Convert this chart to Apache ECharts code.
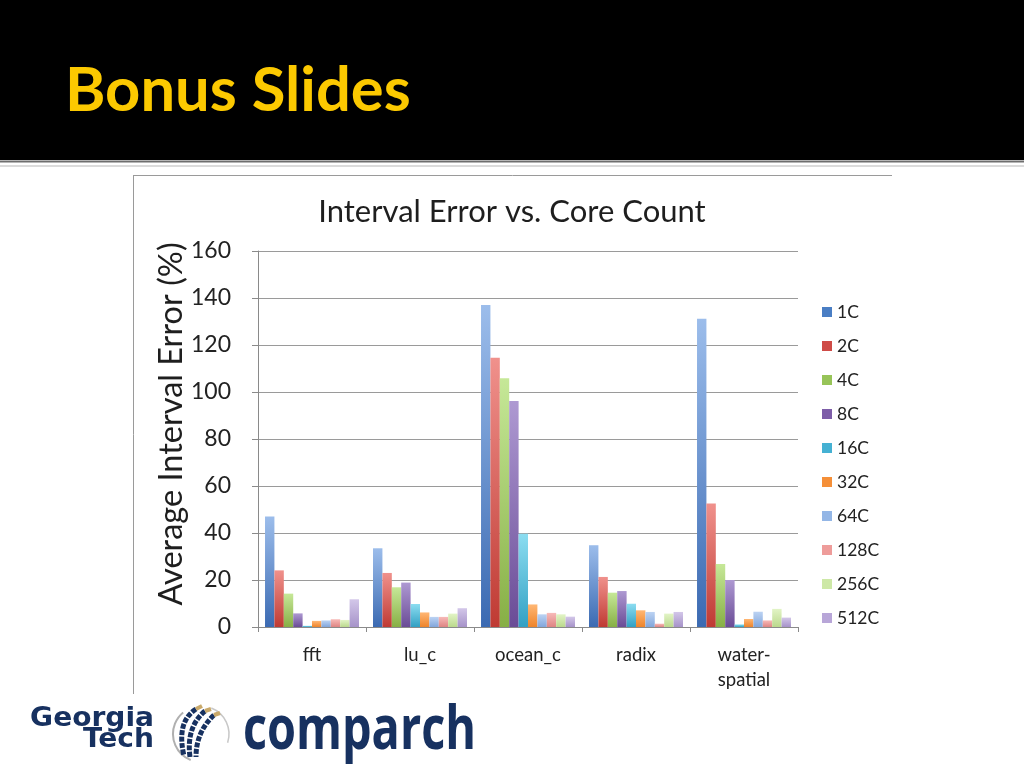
<!DOCTYPE html>
<html>
<head>
<meta charset="utf-8">
<script src="https://cdn.jsdelivr.net/npm/echarts@6/dist/echarts.min.js"></script>
<style>
html,body{margin:0;padding:0;background:#fff;}
#chart{width:1024px;height:768px;}
</style>
</head>
<body>
<div id="chart"></div>
<script>
// ---- data ----
var categories = ['fft', 'lu_c', 'ocean_c', 'radix', 'water-spatial'];
var seriesNames = ['1C', '2C', '4C', '8C', '16C', '32C', '64C', '128C', '256C', '512C'];
var v1C   = [47.0, 33.5, 137.0, 34.8, 131.2];
var v2C   = [24.1, 23.0, 114.6, 21.3, 52.6];
var v4C   = [14.2, 16.9, 105.8, 14.6, 26.8];
var v8C   = [5.8, 18.9, 96.2, 15.3, 20.0];
var v16C  = [0.5, 9.8, 39.7, 9.9, 1.1];
var v32C  = [2.6, 6.2, 9.6, 7.1, 3.4];
var v64C  = [2.8, 4.3, 5.4, 6.4, 6.5];
var v128C = [3.3, 4.3, 6.0, 1.4, 2.8];
var v256C = [3.0, 5.7, 5.4, 5.7, 7.7];
var v512C = [11.8, 8.0, 4.4, 6.4, 4.0];
var yTicks = [0, 20, 40, 60, 80, 100, 120, 140, 160];
var seriesValues = [v1C, v2C, v4C, v8C, v16C, v32C, v64C, v128C, v256C, v512C];

// ---- styles ----
var baseColors = ['#4A7EC4', '#CF4B47', '#97C458', '#7D5DA8', '#45B1D3', '#F58F38', '#93B6E6', '#EE9C9A', '#CDE8A6', '#B8A6D8'];
var topColors  = ['#9CBDEB', '#F0918C', '#C6E898', '#AE99D2', '#8CDDF1', '#FFB774', '#BCD3F3', '#F7BAB8', '#E2F4C6', '#D3C7E9'];
var botColors  = ['#3B6AB2', '#BF3A33', '#87AF45', '#6A4C96', '#32A0C3', '#EE842A', '#82A6DB', '#DE8583', '#BBD98D', '#A693C9'];
var FONT = 'Lato';
var NAVY = '#173160';

var chart = echarts.init(document.getElementById('chart'));

var series = seriesNames.map(function (name, i) {
  return {
    name: name,
    type: 'bar',
    data: seriesValues[i],
    barGap: '0%',
    barCategoryGap: '13%',
    itemStyle: {
      color: new echarts.graphic.LinearGradient(0, 0, 0, 1, [
        { offset: 0, color: topColors[i] },
        { offset: 1, color: botColors[i] }
      ])
    }
  };
});

var option = {
  animation: false,
  backgroundColor: '#ffffff',
  textStyle: { fontFamily: FONT },
  title: {
    text: 'Interval Error vs. Core Count',
    left: 'center',
    top: 191,
    textStyle: { fontFamily: FONT, fontSize: 31, fontWeight: 'normal', color: '#1e1e1e' }
  },
  legend: {
    orient: 'vertical',
    left: 822,
    top: 303,
    padding: 0,
    itemWidth: 10,
    itemHeight: 10,
    itemGap: 16,
    icon: 'rect',
    textStyle: { fontFamily: FONT, fontSize: 17.5, color: '#222' },
    data: seriesNames.map(function (n, i) { return { name: n, itemStyle: { color: baseColors[i] } }; })
  },
  grid: { left: 258, right: 226, top: 251, bottom: 141, containLabel: false },
  xAxis: {
    type: 'category',
    data: categories,
    axisLine: { show: true, lineStyle: { color: '#8a8a8a', width: 1 } },
    axisTick: { show: true, length: 5, alignWithLabel: false, lineStyle: { color: '#8a8a8a' } },
    axisLabel: {
      fontFamily: FONT, fontSize: 18.5, color: '#222', margin: 16, lineHeight: 25,
      formatter: function (v) { return v.replace('-', '-\n'); }
    }
  },
  yAxis: {
    type: 'value',
    min: 0,
    max: 160,
    interval: 20,
    name: 'Average Interval Error (%)',
    nameLocation: 'middle',
    nameGap: 70,
    nameMoveOverlap: false,
    nameTextStyle: { fontFamily: FONT, fontSize: 32.5, color: '#1e1e1e', padding: [0, 0, 0, 30] },
    axisLine: { show: true, lineStyle: { color: '#8a8a8a', width: 1 } },
    axisTick: { show: true, length: 6, lineStyle: { color: '#8a8a8a' } },
    splitLine: { show: true, lineStyle: { color: '#9a9a9a', width: 1 } },
    axisLabel: {
      fontFamily: FONT, fontSize: 23, color: '#222', margin: 27,
      formatter: function (v) { return yTicks.indexOf(v) >= 0 ? String(v) : ''; }
    }
  },
  series: series,
  graphic: [
    { type: 'rect', shape: { x: 0, y: 0, width: 1024, height: 160 }, style: { fill: '#000' }, z: -10 },
    { type: 'line', shape: { x1: 0, y1: 161.5, x2: 1024, y2: 161.5 }, style: { stroke: '#6e6e6e', lineWidth: 2 } },
    { type: 'line', shape: { x1: 0, y1: 166, x2: 1024, y2: 166 }, style: { stroke: '#cfcfcf', lineWidth: 1.5 } },
    {
      type: 'text', x: 65, y: 91, z: 10,
      style: {
        text: 'Bonus Slides', fontFamily: FONT, fontWeight: 'bold', fontSize: 61.5,
        fill: '#FCC900', verticalAlign: 'middle', align: 'left'
      }
    },
    // chart box frame
    { type: 'line', shape: { x1: 133, y1: 175.5, x2: 892, y2: 175.5 }, style: { stroke: '#9a9a9a', lineWidth: 1 } },
    { type: 'line', shape: { x1: 133.5, y1: 175, x2: 133.5, y2: 694 }, style: { stroke: '#9a9a9a', lineWidth: 1 } },
    // Georgia Tech logo
    { type: 'text', x: 154, y: 719, scaleX: 1.08, style: { text: 'Georgia', fontFamily: 'DejaVu Sans', fontWeight: 'bold', fontSize: 26, fill: NAVY, align: 'right', verticalAlign: 'middle' } },
    { type: 'text', x: 154, y: 740, scaleX: 1.08, style: { text: 'Tech', fontFamily: 'DejaVu Sans', fontWeight: 'bold', fontSize: 26, fill: NAVY, align: 'right', verticalAlign: 'middle' } },
    // swirl icon
    { type: 'arc', shape: { cx: 201, cy: 734, r: 28, startAngle: Math.PI * 0.62, endAngle: Math.PI * 1.28, clockwise: true }, style: { stroke: '#b0b0b0', lineWidth: 2, fill: null } },
    { type: 'arc', shape: { cx: 201, cy: 734, r: 28, startAngle: -Math.PI * 0.38, endAngle: Math.PI * 0.1, clockwise: true }, style: { stroke: '#c8c8c8', lineWidth: 1.5, fill: null } },
    { type: 'bezierCurve', shape: { x1: 196, y1: 709, x2: 184, y2: 756, cpx1: 176, cpy1: 722 }, style: { stroke: NAVY, lineWidth: 5, lineDash: [5, 1.5], fill: null } },
    { type: 'bezierCurve', shape: { x1: 205, y1: 711, x2: 190, y2: 757, cpx1: 186, cpy1: 727 }, style: { stroke: NAVY, lineWidth: 5, lineDash: [5, 1.5], fill: null } },
    { type: 'bezierCurve', shape: { x1: 214, y1: 715, x2: 196, y2: 757, cpx1: 196, cpy1: 732 }, style: { stroke: NAVY, lineWidth: 5, lineDash: [5, 1.5], fill: null } },
    { type: 'line', shape: { x1: 196, y1: 709, x2: 202, y2: 706 }, style: { stroke: '#C9A96A', lineWidth: 4 } },
    { type: 'line', shape: { x1: 205, y1: 711, x2: 211, y2: 709 }, style: { stroke: '#C9A96A', lineWidth: 4 } },
    { type: 'line', shape: { x1: 214, y1: 715, x2: 220, y2: 713 }, style: { stroke: '#C9A96A', lineWidth: 4 } },
    // comparch word mark
    { type: 'text', x: 243, y: 732, scaleX: 0.78, style: { text: 'comparch', fontFamily: 'Open Sans', fontWeight: 'bold', fontSize: 60, fill: NAVY, align: 'left', verticalAlign: 'middle' } }
  ]
};

chart.setOption(option);
</script>
</body>
</html>
